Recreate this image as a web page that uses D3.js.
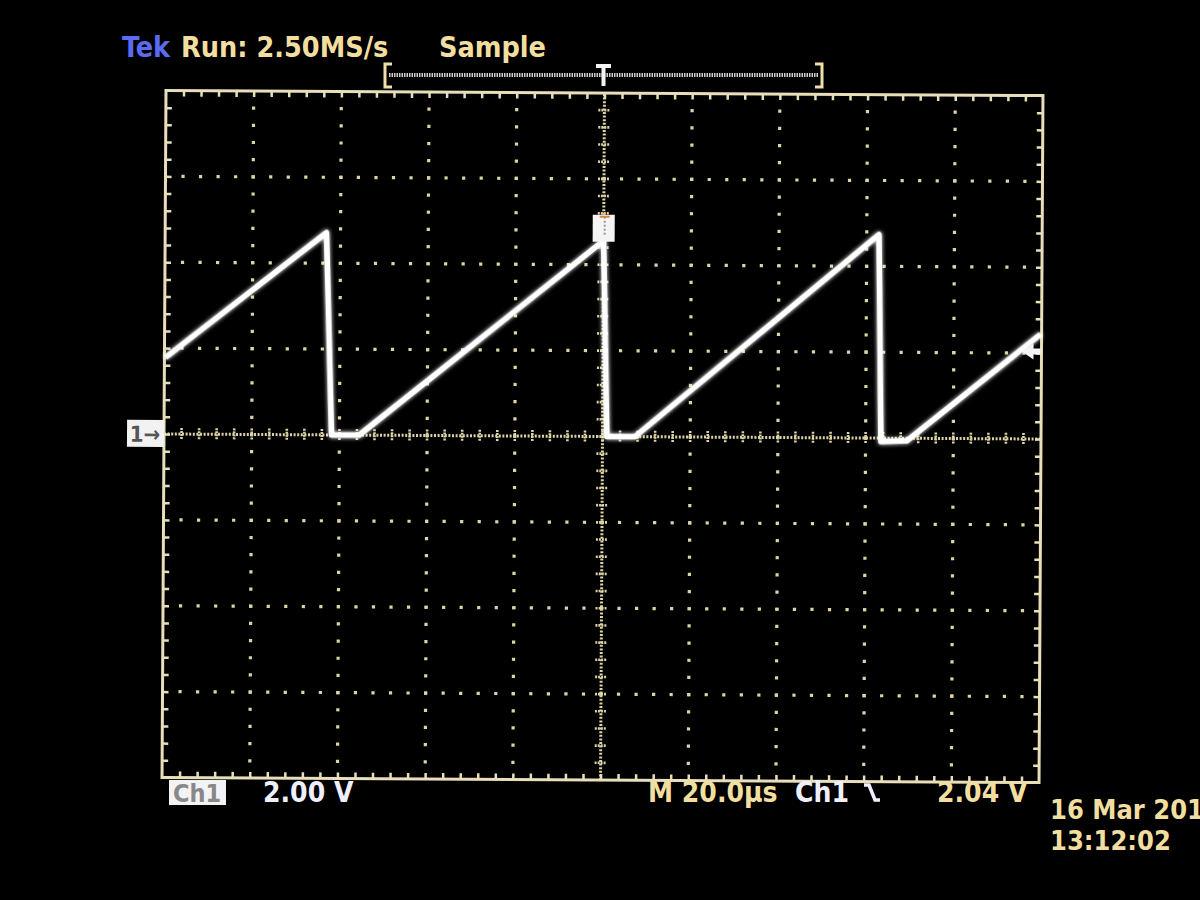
<!DOCTYPE html>
<html>
<head>
<meta charset="utf-8">
<script src="https://cdn.jsdelivr.net/npm/d3@7/dist/d3.min.js"></script>
<style>
  html, body { margin: 0; padding: 0; background: #000; }
  svg { display: block; }
  .lbl { font-family: "DejaVu Sans Condensed", "Liberation Sans Narrow", "DejaVu Sans", sans-serif; font-weight: bold; font-stretch: condensed; }
</style>
</head>
<body>
<svg id="chart" width="1200" height="900"></svg>
<script>
const timeUs = [-99.8, -63.2, -61.8, -55.5, 0.0, 1.0, 7.4, 62.8, 63.5, 69.4, 99.8];
const volts  = [1.78, 4.71, 0.0, 0.0, 4.56, 0.0, 0.0, 4.74, -0.08, -0.06, 2.44];
const timeDomain = [-100, 100];     // 20.0 µs / div, 10 div
const voltDomain = [-8, 8];         // 2.00 V / div, 8 div
const triggerLevel = 2.04;
const headerTexts = ["Run: 2.50MS/s", "Sample"];
const footerTexts = ["2.00 V", "M 20.0µs", "Ch1", "2.04 V"];
const dateTexts = ["16 Mar 201", "13:12:02"];

const svg = d3.select("#chart");
svg.append("rect").attr("width", 1200).attr("height", 900).attr("fill", "#000");

const defs = svg.append("defs");
const f = defs.append("filter").attr("id", "glow").attr("x", "-10%").attr("y", "-10%").attr("width", "120%").attr("height", "120%");
f.append("feGaussianBlur").attr("stdDeviation", 2.2).attr("result", "b");
const m = f.append("feMerge");
m.append("feMergeNode").attr("in", "b");
m.append("feMergeNode").attr("in", "SourceGraphic");

const x = d3.scaleLinear().domain(timeDomain).range([164, 1041]);
const y = d3.scaleLinear().domain(voltDomain).range([780, 93]);

const gridCol = "#ddd3a4";
const frameCol = "#e8dfba";

const g = svg.append("g").attr("transform", `rotate(0.33, ${x(0)}, ${y(0)})`);

const xMajor = d3.range(timeDomain[0], timeDomain[1] + 0.01, 20);
const yMajor = d3.range(voltDomain[0], voltDomain[1] + 0.01, 2);
const xMinor = d3.range(timeDomain[0], timeDomain[1] + 0.01, 4);
const yMinor = d3.range(voltDomain[0], voltDomain[1] + 0.01, 0.4);

// dotted grid lines (dots every 1/5 division)
const dots = [];
xMajor.slice(1, -1).forEach(t => { if (t !== 0) yMinor.slice(1, -1).forEach(v => dots.push([t, v])); });
yMajor.slice(1, -1).forEach(v => { if (v !== 0) xMinor.slice(1, -1).forEach(t => dots.push([t, v])); });
g.append("g").selectAll("rect").data(dots).join("rect")
  .attr("x", d => x(d[0]) - 1.6).attr("y", d => y(d[1]) - 1.6)
  .attr("width", 3.2).attr("height", 3.2).attr("fill", gridCol);

// centre lines: dense dots with crossing ticks
g.append("line").attr("x1", x(timeDomain[0])).attr("x2", x(timeDomain[1]))
  .attr("y1", y(0)).attr("y2", y(0)).attr("stroke", gridCol).attr("stroke-width", 3).attr("stroke-dasharray", "2 1.6");
g.append("line").attr("y1", y(voltDomain[0])).attr("y2", y(voltDomain[1]))
  .attr("x1", x(0)).attr("x2", x(0)).attr("stroke", gridCol).attr("stroke-width", 3).attr("stroke-dasharray", "2 1.6");
g.append("g").selectAll("line").data(xMinor.slice(1, -1)).join("line")
  .attr("x1", d => x(d)).attr("x2", d => x(d))
  .attr("y1", y(0) - 6).attr("y2", y(0) + 6)
  .attr("stroke", gridCol).attr("stroke-width", 2.6).attr("stroke-dasharray", "2 1");
g.append("g").selectAll("line").data(yMinor.slice(1, -1)).join("line")
  .attr("y1", d => y(d)).attr("y2", d => y(d))
  .attr("x1", x(0) - 6).attr("x2", x(0) + 6)
  .attr("stroke", gridCol).attr("stroke-width", 2.6).attr("stroke-dasharray", "2 1");

// frame ticks via axes
function tickAxis(axis, tr, vals, size) {
  const a = g.append("g").attr("transform", tr)
    .call(axis.tickValues(vals).tickSize(size).tickFormat(""));
  a.select(".domain").remove();
  a.selectAll("line").attr("stroke", frameCol).attr("stroke-width", 2.5);
}
tickAxis(d3.axisTop(x), `translate(0,${y(voltDomain[1])})`, xMinor.slice(1, -1), -6);
tickAxis(d3.axisBottom(x), `translate(0,${y(voltDomain[0])})`, xMinor.slice(1, -1), -6);
tickAxis(d3.axisLeft(y), `translate(${x(timeDomain[0])},0)`, yMinor.slice(1, -1), -6);
tickAxis(d3.axisRight(y), `translate(${x(timeDomain[1])},0)`, yMinor.slice(1, -1), -6);

// frame
g.append("rect").attr("x", x(timeDomain[0])).attr("y", y(voltDomain[1]))
  .attr("width", x(timeDomain[1]) - x(timeDomain[0])).attr("height", y(voltDomain[0]) - y(voltDomain[1]))
  .attr("fill", "none").attr("stroke", frameCol).attr("stroke-width", 3);

// trace
const line = d3.line().x((d, i) => x(timeUs[i])).y((d, i) => y(volts[i]));
g.append("path").datum(volts).attr("d", line)
  .attr("fill", "none").attr("stroke", "#ffffff").attr("stroke-width", 5.5)
  .attr("stroke-linejoin", "round").attr("filter", "url(#glow)");

// trigger point marker on trace
const tx = x(0), ty = y(volts[4]);
g.append("rect").attr("x", tx - 11).attr("y", ty - 26).attr("width", 22).attr("height", 27).attr("fill", "#f4f4f4");
g.append("line").attr("x1", tx + 1).attr("x2", tx + 1).attr("y1", ty - 24).attr("y2", ty - 4)
  .attr("stroke", "#999").attr("stroke-width", 2).attr("stroke-dasharray", "2 2");
g.append("line").attr("x1", tx - 4).attr("x2", tx + 6).attr("y1", ty - 24).attr("y2", ty - 24)
  .attr("stroke", "#e08040").attr("stroke-width", 2);

// ground marker "1→"
g.append("rect").attr("x", x(timeDomain[0]) - 37).attr("y", y(0) - 14).attr("width", 37).attr("height", 27).attr("fill", "#f2f2f2");
g.append("text").attr("class", "lbl").attr("x", x(timeDomain[0]) - 19).attr("y", y(0) + 8)
  .attr("text-anchor", "middle").attr("font-size", 22).attr("font-weight", "normal").attr("fill", "#555").text("1→");

// trigger level arrow (right)
const ay = y(triggerLevel);
const ax = x(timeDomain[1]);
g.append("path").attr("d", `M${ax - 20},${ay} L${ax - 8},${ay - 8} L${ax - 8},${ay - 3} L${ax - 1},${ay - 3} L${ax - 1},${ay + 3} L${ax - 8},${ay + 3} L${ax - 8},${ay + 8} Z`)
  .attr("fill", "#f4f4f4");

// record-length bar at top
const barY = 75;
svg.append("line").attr("x1", 389).attr("x2", 818).attr("y1", barY).attr("y2", barY)
  .attr("stroke", "#cfcfcf").attr("stroke-width", 4).attr("stroke-dasharray", "1.5 1");
svg.append("path").attr("d", `M392,${barY - 11} H385 V${barY + 12} H392`).attr("fill", "none").attr("stroke", "#f0dfa8").attr("stroke-width", 3);
svg.append("path").attr("d", `M815,${barY - 11} H822 V${barY + 12} H815`).attr("fill", "none").attr("stroke", "#f0dfa8").attr("stroke-width", 3);
svg.append("path").attr("d", `M596,${barY - 9} H611 M603.5,${barY - 9} V${barY + 11}`).attr("fill", "none").attr("stroke", "#f4f4f4").attr("stroke-width", 4);

// header texts
const hs = 28.5;
svg.append("text").attr("class", "lbl").attr("x", 122).attr("y", 57).attr("font-size", hs).attr("fill", "#5a6cf2").text("Tek");
svg.append("text").attr("class", "lbl").attr("x", 181).attr("y", 57).attr("font-size", hs).attr("fill", "#f2dfa0").text(headerTexts[0]);
svg.append("text").attr("class", "lbl").attr("x", 439).attr("y", 57).attr("font-size", hs).attr("fill", "#f2dfa0").text(headerTexts[1]);

// footer
const fs = 28;
svg.append("rect").attr("x", 169).attr("y", 780).attr("width", 57).attr("height", 25).attr("fill", "#f3f3f6");
svg.append("text").attr("class", "lbl").attr("x", 197).attr("y", 802).attr("text-anchor", "middle").attr("font-size", 25)
  .attr("font-weight", "normal").attr("fill", "#888").text("Ch1");
svg.append("text").attr("class", "lbl").attr("x", 263).attr("y", 802).attr("font-size", fs).attr("fill", "#eef0ff").text(footerTexts[0]);
svg.append("text").attr("class", "lbl").attr("x", 648).attr("y", 802).attr("font-size", fs).attr("fill", "#f2dfa0").text(footerTexts[1]);
svg.append("text").attr("class", "lbl").attr("x", 795).attr("y", 802).attr("font-size", fs).attr("fill", "#eef0ff").text(footerTexts[2]);
svg.append("path").attr("d", "M864,785 H869 L875,800 H880").attr("fill", "none").attr("stroke", "#eef0ff").attr("stroke-width", 3.5);
svg.append("text").attr("class", "lbl").attr("x", 937).attr("y", 802).attr("font-size", fs).attr("fill", "#f2dfa0").text(footerTexts[3]);
svg.append("text").attr("class", "lbl").attr("x", 1050).attr("y", 819).attr("font-size", 27).attr("fill", "#f2dfa0").text(dateTexts[0]);
svg.append("text").attr("class", "lbl").attr("x", 1050).attr("y", 850).attr("font-size", 27).attr("fill", "#f2dfa0").text(dateTexts[1]);
</script>
</body>
</html>
